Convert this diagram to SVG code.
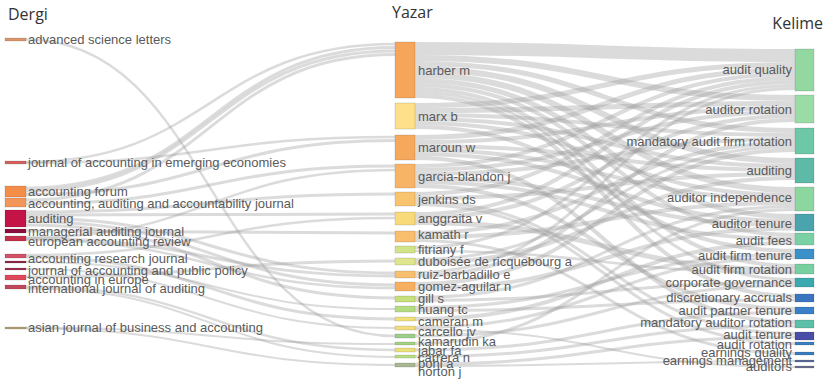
<svg xmlns="http://www.w3.org/2000/svg" width="826" height="383" viewBox="0 0 826 383">
<style>
.lk{fill:none;stroke:#9c9c9c;stroke-opacity:0.36}
.t{font-family:"Liberation Sans",Arial,sans-serif;font-size:13px;fill:#5a5a5a}
.h{font-family:"Open Sans","Liberation Sans",sans-serif;font-size:16px;fill:#333}
.r{text-anchor:end}
.b{stroke:#000;stroke-opacity:0.12;stroke-width:1}
</style>
<rect width="826" height="383" fill="#fff"/>
<g id="connectors">
<!-- left to middle -->
<path class="lk" stroke-width="2.5" d="M26,39.5 C210,39.5 210,336 395,336"/>
<path class="lk" stroke-width="2.5" d="M26,162 C210,162 210,44 395,44"/>
<path class="lk" stroke-width="2.5" d="M26,163 C210,163 210,137 395,137"/>
<path class="lk" stroke-width="3" d="M26,188 C210,188 210,47.5 395,47.5"/>
<path class="lk" stroke-width="3" d="M26,191 C210,191 210,51 395,51"/>
<path class="lk" stroke-width="3" d="M26,194.5 C210,194.5 210,140.5 395,140.5"/>
<path class="lk" stroke-width="3" d="M26,200 C210,200 210,54.5 395,54.5"/>
<path class="lk" stroke-width="3" d="M26,204 C210,204 210,166 395,166"/>
<path class="lk" stroke-width="3" d="M26,212 C210,212 210,194 395,194"/>
<path class="lk" stroke-width="3" d="M26,215 C210,215 210,214 395,214"/>
<path class="lk" stroke-width="3" d="M26,218 C210,218 210,273 395,273"/>
<path class="lk" stroke-width="3" d="M26,221.5 C210,221.5 210,285 395,285"/>
<path class="lk" stroke-width="3" d="M26,225 C210,225 210,298 395,298"/>
<path class="lk" stroke-width="3" d="M26,231 C210,231 210,233 395,233"/>
<path class="lk" stroke-width="2.5" d="M26,237.5 C210,237.5 210,170 395,170"/>
<path class="lk" stroke-width="3" d="M26,238.5 C210,238.5 210,276 395,276"/>
<path class="lk" stroke-width="2.5" d="M26,240 C210,240 210,288 395,288"/>
<path class="lk" stroke-width="2.5" d="M26,255 C210,255 210,218 395,218"/>
<path class="lk" stroke-width="3" d="M26,257 C210,257 210,319 395,319"/>
<path class="lk" stroke-width="2" d="M26,262 C210,262 210,309 395,309"/>
<path class="lk" stroke-width="2" d="M26,269 C210,269 210,328 395,328"/>
<path class="lk" stroke-width="3" d="M26,277 C210,277 210,261 395,261"/>
<path class="lk" stroke-width="2.5" d="M26,286.5 C210,286.5 210,350 395,350"/>
<path class="lk" stroke-width="2" d="M26,288.5 C210,288.5 210,357 395,357"/>
<path class="lk" stroke-width="2" d="M26,327.5 C210,327.5 210,344 395,344"/>
<path class="lk" stroke-width="2" d="M26,328.5 C210,328.5 210,365 395,365"/>
<!-- middle to right -->
<path class="lk" stroke-width="13" d="M415,48.5 C605,48.5 605,55.5 795,55.5"/>
<path class="lk" stroke-width="6" d="M415,58 C605,58 605,98 795,98"/>
<path class="lk" stroke-width="5" d="M415,63.5 C605,63.5 605,130.5 795,130.5"/>
<path class="lk" stroke-width="6" d="M415,69 C605,69 605,161 795,161"/>
<path class="lk" stroke-width="6" d="M415,75 C605,75 605,190 795,190"/>
<path class="lk" stroke-width="5" d="M415,80.5 C605,80.5 605,216.5 795,216.5"/>
<path class="lk" stroke-width="4" d="M415,85 C605,85 605,235 795,235"/>
<path class="lk" stroke-width="4" d="M415,89 C605,89 605,266 795,266"/>
<path class="lk" stroke-width="3" d="M415,92.5 C605,92.5 605,279.5 795,279.5"/>
<path class="lk" stroke-width="4" d="M415,96 C605,96 605,296 795,296"/>
<path class="lk" stroke-width="5" d="M415,105.5 C605,105.5 605,64.5 795,64.5"/>
<path class="lk" stroke-width="5" d="M415,110.5 C605,110.5 605,103.5 795,103.5"/>
<path class="lk" stroke-width="4" d="M415,115 C605,115 605,135 795,135"/>
<path class="lk" stroke-width="4" d="M415,119 C605,119 605,166 795,166"/>
<path class="lk" stroke-width="4" d="M415,123 C605,123 605,195 795,195"/>
<path class="lk" stroke-width="4" d="M415,127 C605,127 605,251 795,251"/>
<path class="lk" stroke-width="5" d="M415,137.5 C605,137.5 605,69.5 795,69.5"/>
<path class="lk" stroke-width="4" d="M415,142 C605,142 605,108 795,108"/>
<path class="lk" stroke-width="4" d="M415,146 C605,146 605,170 795,170"/>
<path class="lk" stroke-width="4" d="M415,150 C605,150 605,199 795,199"/>
<path class="lk" stroke-width="4" d="M415,154 C605,154 605,221 795,221"/>
<path class="lk" stroke-width="4" d="M415,158 C605,158 605,322 795,322"/>
<path class="lk" stroke-width="4" d="M415,166 C605,166 605,74 795,74"/>
<path class="lk" stroke-width="4" d="M415,170 C605,170 605,112 795,112"/>
<path class="lk" stroke-width="4" d="M415,174 C605,174 605,139 795,139"/>
<path class="lk" stroke-width="4" d="M415,178 C605,178 605,225 795,225"/>
<path class="lk" stroke-width="4" d="M415,182 C605,182 605,239 795,239"/>
<path class="lk" stroke-width="4" d="M415,186 C605,186 605,309 795,309"/>
<path class="lk" stroke-width="4" d="M415,194 C605,194 605,78 795,78"/>
<path class="lk" stroke-width="4" d="M415,198 C605,198 605,174 795,174"/>
<path class="lk" stroke-width="3" d="M415,201.5 C605,201.5 605,333.5 795,333.5"/>
<path class="lk" stroke-width="3" d="M415,204.5 C605,204.5 605,343.5 795,343.5"/>
<path class="lk" stroke-width="4" d="M415,214 C605,214 605,82 795,82"/>
<path class="lk" stroke-width="4" d="M415,218 C605,218 605,116 795,116"/>
<path class="lk" stroke-width="5" d="M415,222.5 C605,222.5 605,270 795,270"/>
<path class="lk" stroke-width="4" d="M415,233 C605,233 605,143 795,143"/>
<path class="lk" stroke-width="4" d="M415,237 C605,237 605,203 795,203"/>
<path class="lk" stroke-width="3" d="M415,240.5 C605,240.5 605,353.5 795,353.5"/>
<path class="lk" stroke-width="3" d="M415,247.5 C605,247.5 605,85.5 795,85.5"/>
<path class="lk" stroke-width="2.5" d="M415,251 C605,251 605,273 795,273"/>
<path class="lk" stroke-width="3" d="M415,259.5 C605,259.5 605,146.5 795,146.5"/>
<path class="lk" stroke-width="4" d="M415,263 C605,263 605,178 795,178"/>
<path class="lk" stroke-width="3" d="M415,272.5 C605,272.5 605,88.5 795,88.5"/>
<path class="lk" stroke-width="4" d="M415,276 C605,276 605,120 795,120"/>
<path class="lk" stroke-width="4" d="M415,284 C605,284 605,150 795,150"/>
<path class="lk" stroke-width="4" d="M415,288.5 C605,288.5 605,228.5 795,228.5"/>
<path class="lk" stroke-width="3" d="M415,297.5 C605,297.5 605,206.5 795,206.5"/>
<path class="lk" stroke-width="3" d="M415,300.5 C605,300.5 605,282.5 795,282.5"/>
<path class="lk" stroke-width="3" d="M415,307.5 C605,307.5 605,254.5 795,254.5"/>
<path class="lk" stroke-width="3" d="M415,310.5 C605,310.5 605,300 795,300"/>
<path class="lk" stroke-width="4" d="M415,319 C605,319 605,243 795,243"/>
<path class="lk" stroke-width="3" d="M415,327.5 C605,327.5 605,257.5 795,257.5"/>
<path class="lk" stroke-width="2" d="M415,329.5 C605,329.5 605,367 795,367"/>
<path class="lk" stroke-width="3" d="M415,336 C605,336 605,285.5 795,285.5"/>
<path class="lk" stroke-width="3" d="M415,343.5 C605,343.5 605,209.5 795,209.5"/>
<path class="lk" stroke-width="3" d="M415,350 C605,350 605,312.5 795,312.5"/>
<path class="lk" stroke-width="3" d="M415,356.5 C605,356.5 605,326 795,326"/>
<path class="lk" stroke-width="3" d="M415,364 C605,364 605,337 795,337"/>
<path class="lk" stroke-width="2" d="M415,366 C605,366 605,361 795,361"/>
</g>
<g id="titles">
<text class="h" x="8" y="20" font-size="17">Dergi</text>
<text class="h" x="392" y="18">Yazar</text>
<text class="h r" x="823" y="29">Kelime</text>
</g>
<g id="dergi">
<g id="d-asl"><rect class="b" x="5" y="38" width="21" height="3" fill="#d9966a"/><text class="t" x="28" y="44">advanced science letters</text></g>
<g id="d-jaee"><rect class="b" x="5" y="161" width="21" height="3" fill="#d4625e"/><text class="t" x="28" y="167">journal of accounting in emerging economies</text></g>
<g id="d-af"><rect class="b" x="5" y="186" width="21" height="11" fill="#f48d48"/><text class="t" x="28" y="196">accounting forum</text></g>
<g id="d-aaaj"><rect class="b" x="5" y="198" width="21" height="9" fill="#f2965a"/><text class="t" x="28" y="208">accounting, auditing and accountability journal</text></g>
<g id="d-aud"><rect class="b" x="5" y="210" width="21" height="17" fill="#c41347"/><text class="t" x="28" y="223">auditing</text></g>
<g id="d-maj"><rect class="b" x="5" y="229" width="21" height="4" fill="#8e0c3c"/><text class="t" x="28" y="236">managerial auditing journal</text></g>
<g id="d-ear"><rect class="b" x="5" y="236" width="21" height="5" fill="#c5304c"/><text class="t" x="28" y="246">european accounting review</text></g>
<g id="d-arj"><rect class="b" x="5" y="254" width="21" height="4" fill="#d45266"/><text class="t" x="28" y="263">accounting research journal</text></g>
<g id="d-x"><rect class="b" x="5" y="261" width="21" height="2" fill="#8e2a46"/></g>
<g id="d-japp"><rect class="b" x="5" y="268" width="21" height="2" fill="#a0304e"/><text class="t" x="28" y="275">journal of accounting and public policy</text></g>
<g id="d-aie"><rect class="b" x="5" y="275" width="21" height="5" fill="#e0485a"/><text class="t" x="28" y="284">accounting in europe</text></g>
<g id="d-ija"><rect class="b" x="5" y="285" width="21" height="4" fill="#c0485c"/><text class="t" x="28" y="293">international journal of auditing</text></g>
<g id="d-ajba"><rect class="b" x="5" y="327" width="21" height="2" fill="#b4a278"/><text class="t" x="28" y="332">asian journal of business and accounting</text></g>
</g>
<g id="yazar">
<g id="y1"><rect class="b" x="395" y="42" width="20" height="56" fill="#f5a65a"/><text class="t" x="418" y="75">harber m</text></g>
<g id="y2"><rect class="b" x="395" y="103" width="20" height="26" fill="#fde089"/><text class="t" x="418" y="121">marx b</text></g>
<g id="y3"><rect class="b" x="395" y="135" width="20" height="25" fill="#f6a85c"/><text class="t" x="418" y="152">maroun w</text></g>
<g id="y4"><rect class="b" x="395" y="164" width="20" height="24" fill="#f8b466"/><text class="t" x="418" y="181">garcia-blandon j</text></g>
<g id="y5"><rect class="b" x="395" y="192" width="20" height="14" fill="#f9c46e"/><text class="t" x="418" y="204">jenkins ds</text></g>
<g id="y6"><rect class="b" x="395" y="212" width="20" height="13" fill="#f8da7a"/><text class="t" x="418" y="223">anggraita v</text></g>
<g id="y7"><rect class="b" x="395" y="231" width="20" height="11" fill="#f9be6e"/><text class="t" x="418" y="239">kamath r</text></g>
<g id="y8"><rect class="b" x="395" y="246" width="20" height="7" fill="#d2e48a"/><text class="t" x="418" y="254">fitriany f</text></g>
<g id="y9"><rect class="b" x="395" y="258" width="20" height="7" fill="#dfe68c"/><text class="t" x="418" y="266">duboisée de ricquebourg a</text></g>
<g id="y10"><rect class="b" x="395" y="271" width="20" height="7" fill="#f8c06e"/><text class="t" x="418" y="279">ruiz-barbadillo e</text></g>
<g id="y11"><rect class="b" x="395" y="282" width="20" height="9" fill="#f6b060"/><text class="t" x="418" y="291">gomez-aguilar n</text></g>
<g id="y12"><rect class="b" x="395" y="296" width="20" height="6" fill="#c6e07c"/><text class="t" x="418" y="303">gill s</text></g>
<g id="y13"><rect class="b" x="395" y="306" width="20" height="6" fill="#b6dc82"/><text class="t" x="418" y="314">huang tc</text></g>
<g id="y14"><rect class="b" x="395" y="317" width="20" height="4" fill="#f0e07a"/><text class="t" x="418" y="326">cameran m</text></g>
<g id="y15"><rect class="b" x="395" y="326" width="20" height="4" fill="#f2dc7c"/><text class="t" x="418" y="336">carcello jv</text></g>
<g id="y16"><rect class="b" x="395" y="334" width="20" height="4" fill="#9ccf8c"/><text class="t" x="418" y="346">kamarudin ka</text></g>
<g id="y17"><rect class="b" x="395" y="342" width="20" height="3" fill="#a4d282"/><text class="t" x="418" y="355">jabar fa</text></g>
<g id="y18"><rect class="b" x="395" y="348" width="20" height="4" fill="#ece07a"/><text class="t" x="418" y="362">carrera n</text></g>
<g id="y19"><rect class="b" x="395" y="355" width="20" height="3" fill="#b8de80"/><text class="t" x="418" y="368">pohl a</text></g>
<g id="y20"><rect class="b" x="395" y="363" width="20" height="4" fill="#a8b890"/><text class="t" x="418" y="376">horton j</text></g>
</g>
<g id="kelime">
<g id="k1"><rect class="b" x="795" y="49" width="19" height="42" fill="#92d8a0"/><text class="t r" x="792" y="74">audit quality</text></g>
<g id="k2"><rect class="b" x="795" y="95" width="19" height="28" fill="#9adca6"/><text class="t r" x="792" y="114">auditor rotation</text></g>
<g id="k3"><rect class="b" x="795" y="128" width="19" height="26" fill="#6cc8a6"/><text class="t r" x="792" y="146">mandatory audit firm rotation</text></g>
<g id="k4"><rect class="b" x="795" y="158" width="19" height="25" fill="#5cbaa6"/><text class="t r" x="792" y="175">auditing</text></g>
<g id="k5"><rect class="b" x="795" y="187" width="19" height="24" fill="#8cd6a0"/><text class="t r" x="792" y="202">auditor independence</text></g>
<g id="k6"><rect class="b" x="795" y="214" width="19" height="17" fill="#4aa4ae"/><text class="t r" x="792" y="228">auditor tenure</text></g>
<g id="k7"><rect class="b" x="795" y="233" width="19" height="12" fill="#7ad2a4"/><text class="t r" x="792" y="245">audit fees</text></g>
<g id="k8"><rect class="b" x="795" y="249" width="19" height="10" fill="#3a90c8"/><text class="t r" x="792" y="260">audit firm tenure</text></g>
<g id="k9"><rect class="b" x="795" y="264" width="19" height="10" fill="#78d0a0"/><text class="t r" x="792" y="274">audit firm rotation</text></g>
<g id="k10"><rect class="b" x="795" y="278" width="19" height="9" fill="#3ca8b0"/><text class="t r" x="792" y="287">corporate governance</text></g>
<g id="k11"><rect class="b" x="795" y="294" width="19" height="8" fill="#3a76c0"/><text class="t r" x="792" y="302">discretionary accruals</text></g>
<g id="k12"><rect class="b" x="795" y="307" width="19" height="7" fill="#3a80c8"/><text class="t r" x="792" y="315">audit partner tenure</text></g>
<g id="k13"><rect class="b" x="795" y="320" width="19" height="8" fill="#5cc0a8"/><text class="t r" x="792" y="327">mandatory auditor rotation</text></g>
<g id="k14"><rect class="b" x="795" y="332" width="19" height="8" fill="#4a4ea6"/><text class="t r" x="792" y="339">audit tenure</text></g>
<g id="k15"><rect class="b" x="795" y="342" width="19" height="3" fill="#3a80c0"/><text class="t r" x="792" y="349">audit rotation</text></g>
<g id="k16"><rect class="b" x="795" y="352" width="19" height="3" fill="#3a7cc0"/><text class="t r" x="792" y="357">earnings quality</text></g>
<g id="k17"><rect class="b" x="795" y="360" width="19" height="2" fill="#5a6a9a"/><text class="t r" x="792" y="365">earnings management</text></g>
<g id="k18"><rect class="b" x="795" y="366" width="19" height="2" fill="#6a7090"/><text class="t r" x="792" y="371">auditors</text></g>
</g>
</svg>
